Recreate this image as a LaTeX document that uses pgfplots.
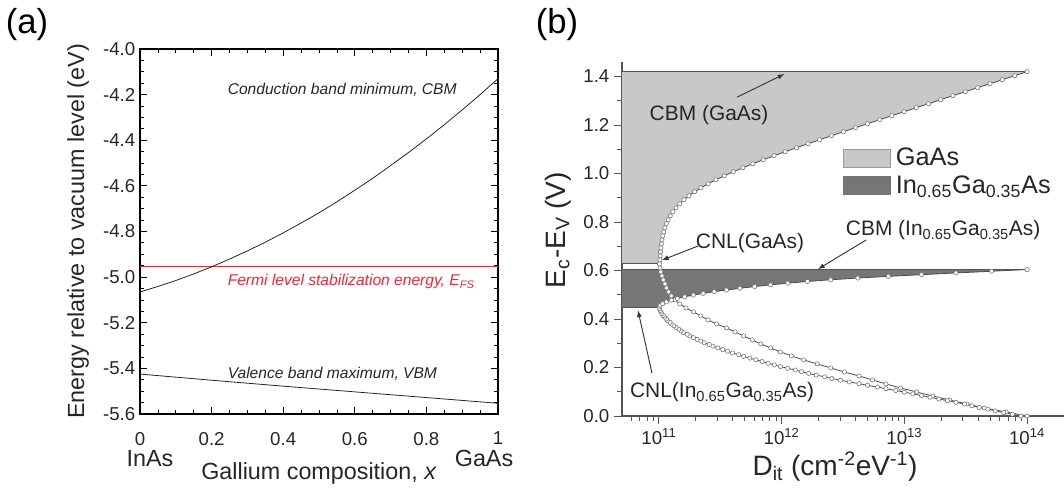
\documentclass[border=0pt]{standalone}
\usepackage{fontspec}
\setmainfont{Liberation Sans}
\usepackage{pgfplots}
\pgfplotsset{compat=1.18}
\usepackage{pgfplotstable}

\definecolor{gaasfill}{RGB}{200,200,200}
\definecolor{ingaasfill}{RGB}{118,118,118}
\definecolor{edgegray}{RGB}{85,85,85}
\definecolor{markgray}{RGB}{120,120,120}
\definecolor{efsred}{RGB}{228,45,55}

% (a) band edges of In(1-x)Ga(x)As versus Ga fraction x
\pgfplotstableread{
x     E
0.00  -5.065
0.05  -5.041
0.10  -5.015
0.15  -4.986
0.20  -4.955
0.25  -4.921
0.30  -4.885
0.35  -4.847
0.40  -4.806
0.45  -4.763
0.50  -4.718
0.55  -4.670
0.60  -4.619
0.65  -4.567
0.70  -4.511
0.75  -4.454
0.80  -4.394
0.85  -4.332
0.90  -4.267
0.95  -4.200
1.00  -4.130
}\cbm
\pgfplotstableread{
x     E
0.0  -5.425
0.2  -5.452
0.4  -5.478
0.6  -5.503
0.8  -5.528
1.0  -5.553
}\vbm

% (b) Dit needed to place the surface Fermi level at Ec-Ev
\pgfplotstableread{
E       D
0.0000  1.000e14
0.0165  6.76e13
0.0330  4.47e13
0.0495  3.24e13
0.0660  2.34e13
0.0826  1.70e13
0.0991  1.26e13
0.1156  9.33e12
0.1321  7.08e12
0.1486  5.50e12
0.1651  4.27e12
0.1816  3.24e12
0.1981  2.51e12
0.2147  1.95e12
0.2312  1.51e12
0.2477  1.20e12
0.2642  9.77e11
0.2807  8.13e11
0.2972  6.76e11
0.3137  5.75e11
0.3302  4.90e11
0.3467  4.17e11
0.3633  3.55e11
0.3798  2.95e11
0.3963  2.51e11
0.4128  2.19e11
0.4293  1.91e11
0.4458  1.66e11
0.4623  1.48e11
0.4788  1.35e11
0.4953  1.26e11
0.5119  1.20e11
0.5284  1.15e11
0.5449  1.12e11
0.5614  1.084e11
0.5779  1.059e11
0.5944  1.035e11
0.6109  1.019e11
0.6274  1.009e11
0.6440  1.018e11
0.6605  1.023e11
0.6770  1.029e11
0.6935  1.037e11
0.7100  1.047e11
0.7265  1.059e11
0.7430  1.074e11
0.7595  1.094e11
0.7760  1.118e11
0.7926  1.149e11
0.8091  1.188e11
0.8256  1.237e11
0.8421  1.298e11
0.8586  1.376e11
0.8751  1.474e11
0.8916  1.598e11
0.9081  1.754e11
0.9247  1.952e11
0.9412  2.200e11
0.9577  2.514e11
0.9742  2.909e11
0.9907  3.406e11
1.0072  4.034e11
1.0237  4.825e11
1.0402  5.823e11
1.0567  7.081e11
1.0733  8.675e11
1.0898  1.068e12
1.1063  1.320e12
1.1228  1.639e12
1.1393  2.040e12
1.1558  2.546e12
1.1723  3.183e12
1.1888  3.988e12
1.2054  5.009e12
1.2219  6.289e12
1.2384  7.902e12
1.2549  9.937e12
1.2714  1.250e13
1.2879  1.574e13
1.3044  1.974e13
1.3209  2.486e13
1.3374  3.135e13
1.3540  3.958e13
1.3705  4.991e13
1.3870  6.290e13
1.4035  7.932e13
1.4200  1.000e14
}\gaas
\pgfplotstableread{
E       D
0.0000  8.91e13
0.0070  7.59e13
0.0140  6.46e13
0.0211  5.50e13
0.0281  4.79e13
0.0351  4.07e13
0.0421  3.55e13
0.0492  3.09e13
0.0562  2.63e13
0.0632  2.24e13
0.0702  1.91e13
0.0773  1.62e13
0.0843  1.38e13
0.0913  1.17e13
0.0983  1.00e13
0.1053  8.51e12
0.1124  7.08e12
0.1194  6.03e12
0.1264  5.01e12
0.1334  4.27e12
0.1405  3.55e12
0.1475  3.02e12
0.1545  2.57e12
0.1615  2.24e12
0.1686  1.91e12
0.1756  1.66e12
0.1826  1.45e12
0.1896  1.29e12
0.1966  1.12e12
0.2037  9.77e11
0.2107  8.71e11
0.2177  7.76e11
0.2247  6.92e11
0.2318  6.17e11
0.2388  5.50e11
0.2458  4.90e11
0.2528  4.47e11
0.2599  3.98e11
0.2669  3.63e11
0.2739  3.31e11
0.2809  3.02e11
0.2879  2.75e11
0.2950  2.57e11
0.3020  2.34e11
0.3090  2.19e11
0.3160  2.04e11
0.3231  1.91e11
0.3301  1.78e11
0.3371  1.70e11
0.3441  1.58e11
0.3512  1.51e11
0.3582  1.45e11
0.3652  1.38e11
0.3722  1.32e11
0.3792  1.26e11
0.3863  1.23e11
0.3933  1.17e11
0.4003  1.15e11
0.4073  1.11e11
0.4144  1.084e11
0.4214  1.059e11
0.4284  1.040e11
0.4354  1.023e11
0.4425  1.012e11
0.4495  1.005e11
0.4565  1.023e11
0.4635  1.072e11
0.4705  1.148e11
0.4776  1.259e11
0.4846  1.413e11
0.4916  1.622e11
0.4986  1.905e11
0.5057  2.291e11
0.5127  2.818e11
0.5197  3.548e11
0.5267  4.571e11
0.5337  6.026e11
0.5408  8.128e11
0.5478  1.122e12
0.5548  1.622e12
0.5618  2.512e12
0.5689  4.169e12
0.5759  7.413e12
0.5829  1.380e13
0.5899  2.630e13
0.5970  5.129e13
0.6040  1.000e14
}\ingaas

\begin{document}
\begin{tikzpicture}
\useasboundingbox (0,0) rectangle (798pt,368.25pt);

\node[font=\fontsize{26}{28}\selectfont] at (20.25pt,349.5pt) {(a)};
\node[font=\fontsize{26}{28}\selectfont] at (417.75pt,349.5pt) {(b)};

% ---------------- panel (a) ----------------
\begin{axis}[
  at={(105pt,57.75pt)}, anchor=south west,
  scale only axis, width=268.5pt, height=273.75pt,
  xmin=0, xmax=1, ymin=-5.6, ymax=-4.0,
  xtick={0,0.2,0.4,0.6,0.8,1},
  ytick={-5.6,-5.4,-5.2,-5.0,-4.8,-4.6,-4.4,-4.2,-4.0},
  minor x tick num=3, minor y tick num=3,
  tick align=inside,
  major tick length=5pt, minor tick length=3pt,
  tick style={black, line width=0.6pt},
  axis line style={black, line width=0.9pt},
  clip=false,
  /pgf/number format/assume math mode=true,
  ticklabel style={font=\fontsize{14}{16}\selectfont, text=black!85},
  yticklabel style={/pgf/number format/fixed, /pgf/number format/fixed zerofill, /pgf/number format/precision=1},
  xticklabel style={yshift=-10pt},
  label style={font=\fontsize{17.5}{20}\selectfont, text=black!85},
  xlabel={Gallium composition,\ \textit{x}},
  ylabel={Energy relative to vacuum level (eV)},
  xlabel style={at={(axis description cs:0.5,-0.162)}, anchor=center},
  ylabel style={at={(axis description cs:-0.173,0.5)}, anchor=center},
]
\addplot[efsred, line width=0.6pt] coordinates {(0,-4.955) (1,-4.955)};
\addplot[black!85, line width=0.6pt] table[x=x,y=E] {\cbm};
\addplot[black!85, line width=0.6pt] table[x=x,y=E] {\vbm};

\node[anchor=west, font=\fontsize{11.7}{13}\selectfont\itshape, text=black!85]
  at (axis cs:0.232,-4.18) {Conduction band minimum,\ CBM};
\node[anchor=west, font=\fontsize{11.7}{13}\selectfont\itshape, text=efsred]
  at (axis cs:0.232,-5.02) {Fermi level stabilization energy, E\textsubscript{FS}};
\node[anchor=west, font=\fontsize{11.7}{13}\selectfont\itshape, text=black!85]
  at (axis cs:0.232,-5.425) {Valence band maximum,\ VBM};

\node[font=\fontsize{17.5}{20}\selectfont, text=black!85] at (axis description cs:0.028,-0.121) {InAs};
\node[font=\fontsize{17.5}{20}\selectfont, text=black!85] at (axis description cs:0.961,-0.121) {GaAs};
\end{axis}

% ---------------- panel (b) ----------------
\begin{axis}[
  at={(466.5pt,56.25pt)}, anchor=south west,
  scale only axis, width=331.5pt, height=265.5pt,
  xmode=log, xmin=5e10, xmax=2e14, ymin=0, ymax=1.46,
  axis x line*=bottom, axis y line*=left,
  axis line style={edgegray, line width=0.9pt},
  xtick={1e11,1e12,1e13,1e14},
  xticklabels={10\textsuperscript{11},10\textsuperscript{12},10\textsuperscript{13},10\textsuperscript{14}},
  minor xtick={6e10,7e10,8e10,9e10,
    2e11,3e11,4e11,5e11,6e11,7e11,8e11,9e11,
    2e12,3e12,4e12,5e12,6e12,7e12,8e12,9e12,
    2e13,3e13,4e13,5e13,6e13,7e13,8e13,9e13},
  ytick={0,0.2,0.4,0.6,0.8,1.0,1.2,1.4},
  minor y tick num=1,
  tick align=outside,
  major tick length=6pt, minor tick length=3.5pt,
  tick style={edgegray, line width=0.7pt},
  clip=false,
  /pgf/number format/assume math mode=true,
  ticklabel style={font=\fontsize{14}{16}\selectfont, text=black!85},
  yticklabel style={/pgf/number format/fixed, /pgf/number format/fixed zerofill, /pgf/number format/precision=1},
  label style={font=\fontsize{21}{24}\selectfont, text=black!85},
  xlabel={D\textsubscript{it} (cm\textsuperscript{-2}eV\textsuperscript{-1})},
  ylabel={E\textsubscript{c}-E\textsubscript{V} (V)},
  xlabel style={at={(axis description cs:0.482,-0.144)}, anchor=center},
  ylabel style={at={(axis description cs:-0.145,0.525)}, anchor=center},
  legend image code/.code={\draw[#1] (0pt,-6.75pt) rectangle (35pt,6.75pt);},
  legend style={at={(axis description cs:0.5,0.765)}, anchor=north west,
    draw=none, fill=none, inner sep=0pt, row sep=2pt,
    font=\fontsize{19}{21}\selectfont, text=black!85,
    nodes={inner xsep=4pt}},
  legend cell align=left,
]
% shaded windows of each material
\addplot[fill=gaasfill, draw=none, restrict y to domain=0.62:1.5, forget plot]
  table[x=D,y=E] {\gaas} -- (axis cs:5e10,1.42) -- (axis cs:5e10,0.6274) -- cycle;
\addplot[fill=ingaasfill, draw=none, restrict y to domain=0.449:0.61, forget plot]
  table[x=D,y=E] {\ingaas} -- (axis cs:5e10,0.604) -- (axis cs:5e10,0.4495) -- cycle;

% band edges and charge neutrality levels
\addplot[edgegray, line width=0.7pt, forget plot] coordinates {(5e10,1.42) (1e14,1.42)};
\addplot[edgegray, line width=0.6pt, forget plot] coordinates {(5e10,0.6274) (1.009e11,0.6274)};
\addplot[edgegray, line width=0.7pt, forget plot] coordinates {(5e10,0.604) (1e14,0.604)};
\addplot[edgegray, line width=0.6pt, forget plot] coordinates {(5e10,0.4495) (1.005e11,0.4495)};

% Dit curves
\addplot[black!70, line width=0.6pt, mark=*, mark size=1.6pt,
  mark options={fill=white, draw=markgray, line width=0.45pt}, forget plot]
  table[x=D,y=E] {\gaas};
\addplot[black!70, line width=0.6pt, mark=*, mark size=1.6pt,
  mark options={fill=white, draw=markgray, line width=0.45pt}, forget plot]
  table[x=D,y=E] {\ingaas};

\addlegendimage{fill=gaasfill, draw=black!40}
\addlegendentry{GaAs}
\addlegendimage{fill=ingaasfill, draw=black!55}
\addlegendentry{In\textsubscript{0.65}Ga\textsubscript{0.35}As}

% annotations
\begin{scope}[font=\fontsize{15.7}{18}\selectfont, text=black!85]
\node at (axis cs:2.56e11,1.241) {CBM (GaAs)};
\draw[black!80, line width=0.7pt, -latex] (axis cs:4.33e11,1.315) -- (axis cs:1.05e12,1.41);
\node at (axis cs:5.52e11,0.713) {CNL(GaAs)};
\draw[black!80, line width=0.7pt, -latex] (axis cs:2.08e11,0.701) -- (axis cs:1.06e11,0.643);
\node at (axis cs:2.07e13,0.767) {CBM (In\textsubscript{0.65}Ga\textsubscript{0.35}As)};
\draw[black!80, line width=0.7pt, -latex] (axis cs:4.88e12,0.726) -- (axis cs:1.98e12,0.606);
\node at (axis cs:3.27e11,0.099) {CNL(In\textsubscript{0.65}Ga\textsubscript{0.35}As)};
\draw[black!80, line width=0.7pt, -latex] (axis cs:8.77e10,0.177) -- (axis cs:6.75e10,0.435);
\end{scope}
\end{axis}
\end{tikzpicture}
\end{document}
